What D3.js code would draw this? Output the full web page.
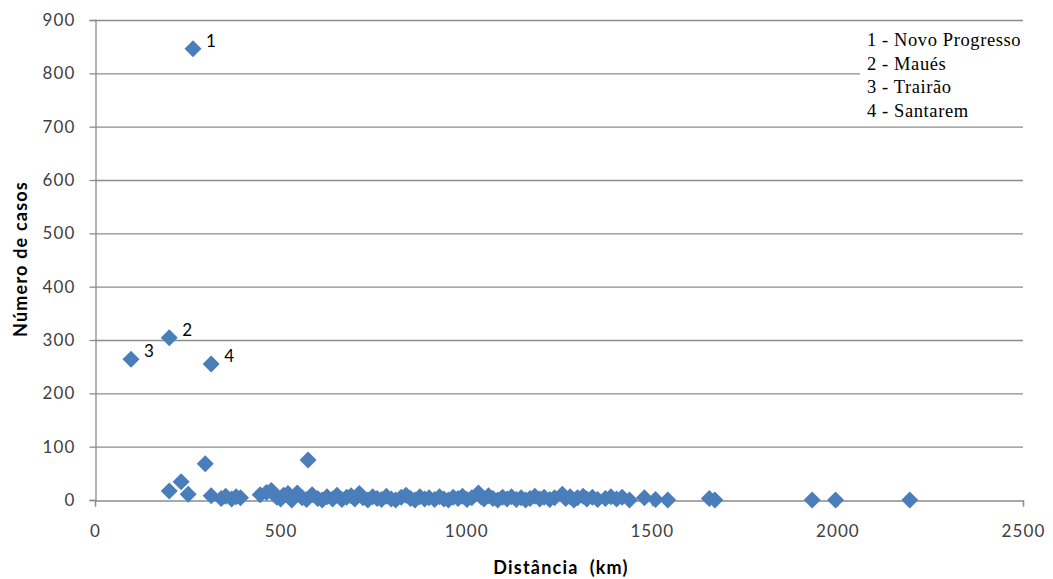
<!DOCTYPE html>
<html><head><meta charset="utf-8">
<script src="https://cdn.jsdelivr.net/npm/d3@7"></script>
<style>
body{margin:0;background:#fff;}
svg{display:block;}
</style></head>
<body>
<svg id="chart" width="1053" height="579"></svg>
<script>
// distance (km)
const distances = [264,200,97,313,200,232,251,297,574,
 313,340,352,368,380,392,445,462,475,490,500,508,520,530,545,558,570,585,600,612,625,640,652,665,678,690,700,712,722,735,748,760,772,785,798,810,825,838,850,862,875,888,900,915,928,940,952,965,978,990,1002,1015,1033,1040,1048,1060,1072,1085,1098,1110,1122,1135,1148,1160,1172,1185,1198,1210,1225,1238,1259,1268,1280,1290,1300,1315,1325,1340,1354,1375,1390,1405,1420,1440,1480,1510,1543,1655,1670,1932,1995,2195];
// number of cases
const cases = [846,304,264,255,17,34,11,68,75,
 8,3,7,2,6,4,10,14,18,5,2,9,12,0,13,4,1,10,3,0,6,2,9,1,5,8,2,12,4,0,6,3,1,7,2,0,5,9,3,0,6,2,4,1,6,2,0,5,3,7,1,4,13,6,2,8,3,0,5,2,6,1,4,0,3,7,2,5,1,4,11,3,6,0,4,7,2,5,1,3,6,2,5,0,4,1,0,3,0,0,0,0];
// point annotations (index into the arrays above)
const annotIndex = [0,1,2,3];
const annotText = ["1","2","3","4"];
const legendLines = ["1 - Novo Progresso","2 - Maués","3 - Trairão","4 - Santarem"];
const xTicks = [0,500,1000,1500,2000,2500];
const yTicks = [0,100,200,300,400,500,600,700,800,900];

const svg = d3.select("#chart");
const m = {l:95, r:1023, t:20, b:500};
const x = d3.scaleLinear().domain([0,2500]).range([m.l, m.r]);
const y = d3.scaleLinear().domain([0,900]).range([m.b, m.t]);
const grid = "#8c8c8c";
const labelFont = "Lato, 'Open Sans', sans-serif";

// gridlines
svg.append("g").selectAll("line").data(yTicks.filter(d=>d>0)).join("line")
  .attr("x1", m.l).attr("x2", m.r).attr("y1", d=>y(d)+0.5).attr("y2", d=>y(d)+0.5)
  .attr("stroke", grid).attr("stroke-width", 1.3);

// y axis
const yAxis = svg.append("g").attr("transform", `translate(${m.l+0.5},0)`)
  .call(d3.axisLeft(y).tickValues(yTicks).tickSize(6).tickPadding(14));
yAxis.select(".domain").attr("stroke", grid).attr("stroke-width",1.3);
yAxis.selectAll(".tick line").attr("stroke", grid).attr("stroke-width",1.3);
yAxis.selectAll("text").attr("font-family", labelFont).attr("font-size", 17)
  .attr("letter-spacing", 1.1).attr("fill", "#404040");

// x axis
const xAxis = svg.append("g").attr("transform", `translate(0,${m.b+0.5})`)
  .call(d3.axisBottom(x).tickValues(xTicks).tickFormat(d3.format("d")).tickSize(6).tickPadding(18));
xAxis.select(".domain").attr("stroke", grid).attr("stroke-width",1.3);
xAxis.selectAll(".tick line").attr("stroke", grid).attr("stroke-width",1.3);
xAxis.selectAll("text").attr("font-family", labelFont).attr("font-size", 17)
  .attr("letter-spacing", 1.1).attr("fill", "#404040");

// legend box (covers gridlines)
const lg = svg.append("g");
lg.append("rect").attr("x", 860).attr("y", 27).attr("width", 163).attr("height", 93).attr("fill", "#fff");
lg.selectAll("text").data(legendLines).join("text")
  .attr("x", 867).attr("y", (d,i)=>46 + i*23.5)
  .attr("font-family", "'Liberation Serif', 'DejaVu Serif', serif").attr("font-size", 18.5)
  .attr("letter-spacing", 0.6).attr("fill", "#000")
  .text(d=>d);

// points
const pts = distances.map((d,i)=>({x:d, y:cases[i]}));
const r = 8.5;
svg.append("g").selectAll("path").data(pts).join("path")
  .attr("d", `M0,${-r}L${r},0L0,${r}L${-r},0Z`)
  .attr("transform", d=>`translate(${x(d.x)},${y(d.y)})`)
  .attr("fill", "#4a7ebb");

// annotations
svg.append("g").selectAll("text").data(annotIndex).join("text")
  .attr("x", i=>x(distances[i]) + 13)
  .attr("y", i=>y(cases[i]) - 2)
  .attr("font-family", labelFont).attr("font-size", 17).attr("fill", "#000")
  .text((d,k)=>annotText[k]);

// axis titles
svg.append("text").attr("x", 561).attr("y", 574).attr("text-anchor","middle")
  .attr("font-family", labelFont).attr("font-weight","bold").attr("font-size", 18)
  .attr("letter-spacing", 1.2).attr("fill","#000")
  .attr("xml:space","preserve").style("white-space","pre")
  .text("Distância  (km)");
svg.append("text").attr("transform","translate(27,259) rotate(-90)").attr("text-anchor","middle")
  .attr("font-family", labelFont).attr("font-weight","bold").attr("font-size", 18)
  .attr("letter-spacing", 1.2).attr("fill","#000")
  .text("Número de casos");
</script>
</body></html>
